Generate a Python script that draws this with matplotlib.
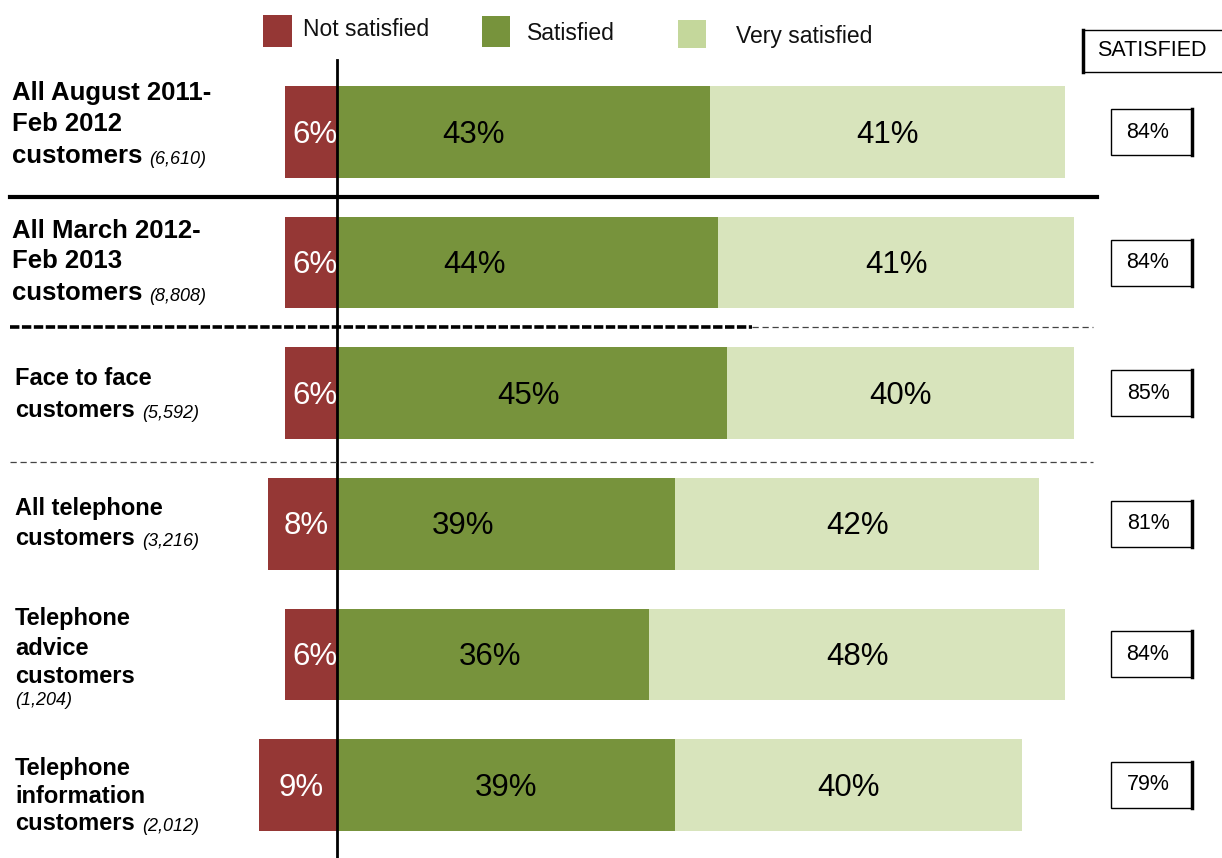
import matplotlib
matplotlib.use('Agg')
import matplotlib.pyplot as plt
from matplotlib.patches import Rectangle
from matplotlib.lines import Line2D
from matplotlib.transforms import blended_transform_factory

plt.rcParams['font.family'] = ['Liberation Sans', 'DejaVu Sans']

# data
not_satisfied = [6, 6, 6, 8, 6, 9]
satisfied = [43, 44, 45, 39, 36, 39]
very_satisfied = [41, 41, 40, 42, 48, 40]
total_satisfied = [84, 84, 85, 81, 84, 79]
sample_sizes = ['(6,610)', '(8,808)', '(5,592)', '(3,216)', '(1,204)', '(2,012)']
label_lines = [
    ['All August 2011-', 'Feb 2012', 'customers'],
    ['All March 2012-', 'Feb 2013', 'customers'],
    ['Face to face', 'customers'],
    ['All telephone', 'customers'],
    ['Telephone', 'advice', 'customers'],
    ['Telephone', 'information', 'customers'],
]
legend_names = ['Not satisfied', 'Satisfied', 'Very satisfied']

# layout / style
c_red = '#953735'
c_green = '#77933C'
c_light = '#D8E4BC'
c_light_leg = '#C4D79B'
W, H = 1222, 858
x0, ppu = 337, 8.67        # pixel of 0%, pixels per percent
y0, ppr = 132, 130.6       # pixel of first row centre, pixels per row
label_x = [12, 12, 15, 15, 15, 15]
label_size = [18.5, 18.5, 17, 17, 17, 17]
label_baselines = [[100, 131, 163], [238, 268, 300], [385, 417],
                   [515, 545], [625, 655, 683], [775, 803, 830]]
count_own_line = [None, None, None, None, 705, None]
sat_label_shift = [-5.7, -6.1, -0.4, -5.0, -0.3, 0]


def fx(x):
    return x / W


def fy(y):
    return 1 - y / H


fig = plt.figure(figsize=(W / 100, H / 100), dpi=100)
ax = fig.add_axes([0, 0, 1, 1])
ax.set_xlim(-x0 / ppu, (W - x0) / ppu)
ax.set_ylim((H - y0) / ppr, -y0 / ppr)
ax.axis('off')

rows = list(range(len(not_satisfied)))
ax.barh(rows, [-v for v in not_satisfied], height=0.7, color=c_red)
ax.barh(rows, satisfied, height=0.7, color=c_green)
ax.barh(rows, very_satisfied, left=satisfied, height=0.7, color=c_light)

for i in rows:
    ax.text(-not_satisfied[i] / 2 + 0.4, i + 0.02, f'{not_satisfied[i]}%', color='white',
            ha='center', va='center', fontsize=22.5)
    ax.text(satisfied[i] / 2 + sat_label_shift[i], i + 0.02, f'{satisfied[i]}%', color='black',
            ha='center', va='center', fontsize=22.5)
    ax.text(satisfied[i] + very_satisfied[i] / 2, i + 0.02, f'{very_satisfied[i]}%', color='black',
            ha='center', va='center', fontsize=22.5)

# zero line
ax.axvline(0, ymin=0, ymax=fy(60), color='black', lw=2)

# separators
fig.add_artist(Line2D([fx(10), fx(1097)], [fy(197)] * 2, transform=fig.transFigure,
                      color='black', lw=3))
fig.add_artist(Line2D([fx(10), fx(752)], [fy(327)] * 2, transform=fig.transFigure,
                      color='black', lw=2.6, dashes=(2.6, 0.7)))
fig.add_artist(Line2D([fx(752), fx(1093)], [fy(327)] * 2, transform=fig.transFigure,
                      color='#444444', lw=0.9, dashes=(5, 3)))
fig.add_artist(Line2D([fx(10), fx(1093)], [fy(462)] * 2, transform=fig.transFigure,
                      color='#444444', lw=0.9, dashes=(5, 3)))

# legend
leg_boxes = [(263, 15, 29, 32), (482, 16, 28, 31), (678, 20, 28, 28)]
leg_text = [(303, 30), (527, 33), (736, 37)]
for name, col, (bx, by, bw, bh), (tx, ty) in zip(legend_names, [c_red, c_green, c_light_leg],
                                                   leg_boxes, leg_text):
    fig.add_artist(Rectangle((fx(bx), fy(by + bh)), bw / W, bh / H,
                             transform=fig.transFigure, color=col, lw=0))
    fig.text(fx(tx), fy(ty), name, ha='left', va='center', fontsize=16.5, color='#111111')

# SATISFIED header box
fig.add_artist(Rectangle((fx(1083), fy(72)), 150 / W, 42 / H, transform=fig.transFigure,
                         fill=False, edgecolor='black', lw=1))
fig.add_artist(Line2D([fx(1083)] * 2, [fy(30), fy(72)], transform=fig.transFigure,
                      color='black', lw=2.5))
fig.text(fx(1097), fy(51), 'SATISFIED', ha='left', va='center', fontsize=15.5)

# total satisfied boxes
bt = blended_transform_factory(fig.transFigure, ax.transData)
bh = 46 / ppr
for i in rows:
    ax.add_patch(Rectangle((fx(1111), i - bh / 2), 81 / W, bh, transform=bt,
                           fill=False, edgecolor='black', lw=1, clip_on=False))
    ax.add_line(Line2D([fx(1192)] * 2, [i - bh / 2, i + bh / 2], transform=bt,
                       color='black', lw=2.5, clip_on=False))
    ax.text(fx(1148), i, f'{total_satisfied[i]}%', transform=bt, ha='center',
            va='center', fontsize=15.5)

# row labels
for i in rows:
    last = None
    for line, base in zip(label_lines[i], label_baselines[i]):
        last = fig.text(fx(label_x[i]), fy(base), line, ha='left', va='baseline',
                        fontsize=label_size[i], fontweight='bold')
    if count_own_line[i] is not None:
        fig.text(fx(label_x[i]), fy(count_own_line[i]), sample_sizes[i], ha='left',
                 va='baseline', fontsize=13, style='italic')
    else:
        ax.annotate(sample_sizes[i], xy=(1, 0), xycoords=last, xytext=(5, 0),
                    textcoords='offset points', ha='left', va='bottom',
                    fontsize=13, style='italic')

fig.savefig('out.png', dpi=100)
